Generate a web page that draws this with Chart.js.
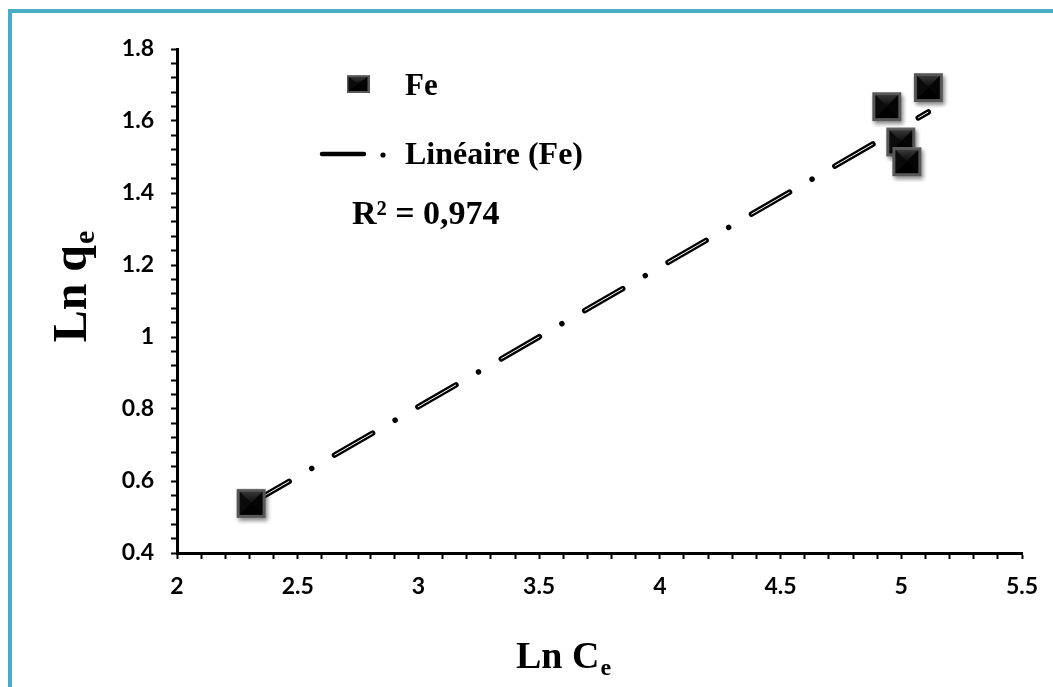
<!DOCTYPE html>
<html>
<head>
<meta charset="utf-8">
<script src="https://cdn.jsdelivr.net/npm/chart.js@4.4.1/dist/chart.umd.min.js"></script>
<style>
  html, body { margin: 0; padding: 0; background: #fff; }
  #wrap { position: relative; width: 1053px; height: 687px; overflow: hidden; }
  #frame { position: absolute; left: 8px; top: 9px; width: 1100px; height: 720px;
           border-top: 4px solid #4bacc6; border-left: 4px solid #4bacc6; box-sizing: border-box; }
  canvas { position: absolute; left: 0; top: 0; }
</style>
</head>
<body>
<div id="wrap">
  <div id="frame"></div>
  <canvas id="c" width="1053" height="687"></canvas>
</div>
<script>
// ---- data ----
const lnCe = [2.307, 4.940, 5.112, 4.998, 5.023];
const lnQe = [0.538, 1.640, 1.693, 1.542, 1.487];
const trendX = [2.307, 5.112];
const trendY = [0.538, 1.625];
const seriesName = 'Fe';
const trendName = 'Linéaire (Fe)';
const r2Label = 'R² = 0,974';
const xTitle = ['Ln C', 'e'];
const yTitle = ['Ln q', 'e'];

const SERIF = '"Liberation Serif", "Times New Roman", serif';
const SANS = 'Lato, "Open Sans", sans-serif';

function makeMarker(w, h, shadow) {
  const pad = shadow ? 6 : 0;
  const c = document.createElement('canvas');
  c.width = w + pad * 2; c.height = h + pad * 2;
  const g = c.getContext('2d');
  const x0 = pad, y0 = pad;
  if (shadow) {
    g.save();
    g.shadowColor = 'rgba(0,0,0,0.45)';
    g.shadowBlur = 4; g.shadowOffsetX = 2; g.shadowOffsetY = 3;
    g.fillStyle = '#4a4a4a';
    g.fillRect(x0, y0, w, h);
    g.restore();
  }
  g.fillStyle = '#575757';
  g.fillRect(x0, y0, w, h);
  g.fillStyle = '#707070';
  g.fillRect(x0, y0, w, 1);
  const b = Math.max(2, Math.round(w * 0.1));
  const ix = x0 + b, iy = y0 + b, iw = w - 2 * b, ih = h - 2 * b;
  const cx = ix + iw / 2, cy = iy + ih / 2;
  function tri(ax, ay, bx, by, col) {
    g.beginPath(); g.moveTo(ax, ay); g.lineTo(bx, by); g.lineTo(cx, cy); g.closePath();
    g.fillStyle = col; g.fill();
  }
  g.fillStyle = '#000'; g.fillRect(ix, iy, iw, ih);
  const gt = g.createLinearGradient(0, iy, 0, cy);
  gt.addColorStop(0, '#363636'); gt.addColorStop(1, '#0c0c0c');
  tri(ix, iy, ix + iw, iy, gt);
  tri(ix + iw, iy, ix + iw, iy + ih, '#050505');
  tri(ix, iy + ih, ix + iw, iy + ih, '#000');
  tri(ix, iy, ix, iy + ih, '#0b0b0b');
  return c;
}
const bigMarker = makeMarker(29, 29, true);
const smallMarker = makeMarker(23, 18, false);

function isMult(v, step) { const r = v / step; return Math.abs(r - Math.round(r)) < 1e-6; }

const overlay = {
  id: 'overlay',
  afterDraw(chart) {
    const ctx = chart.ctx;
    ctx.save();
    ctx.fillStyle = '#000';
    ctx.textBaseline = 'alphabetic';
    ctx.textAlign = 'left';
    // legend: series
    ctx.drawImage(smallMarker, 358 - smallMarker.width / 2, 84 - smallMarker.height / 2);
    ctx.font = 'bold 31px ' + SERIF;
    ctx.fillText(seriesName, 405, 95);
    // legend: trend line sample
    ctx.lineCap = 'round';
    ctx.strokeStyle = '#000'; ctx.lineWidth = 4.5;
    ctx.beginPath(); ctx.moveTo(322, 154); ctx.lineTo(364, 154); ctx.stroke();
    ctx.fillStyle = '#000';
    ctx.beginPath(); ctx.arc(383, 155, 2.6, 0, Math.PI * 2); ctx.fill();
    ctx.font = 'bold 32px ' + SERIF;
    ctx.fillText(trendName, 405, 164);
    // R²
    ctx.font = 'bold 34px ' + SERIF;
    ctx.fillText(r2Label, 352, 224);
    // x title
    ctx.font = 'bold 38px ' + SERIF;
    const wMain = ctx.measureText(xTitle[0]).width;
    ctx.font = 'bold 24px ' + SERIF;
    const wSub = ctx.measureText(xTitle[1]).width;
    let sx = 563 - (wMain + wSub) / 2;
    ctx.font = 'bold 38px ' + SERIF;
    ctx.fillText(xTitle[0], sx, 668);
    ctx.font = 'bold 24px ' + SERIF;
    ctx.fillText(xTitle[1], sx + wMain + 1, 675);
    // y title
    ctx.translate(86, 287);
    ctx.rotate(-Math.PI / 2);
    ctx.font = 'bold 48px ' + SERIF;
    const wyMain = ctx.measureText(yTitle[0]).width;
    ctx.font = 'bold 30px ' + SERIF;
    const wySub = ctx.measureText(yTitle[1]).width;
    let sy = -(wyMain + wySub) / 2;
    ctx.font = 'bold 48px ' + SERIF;
    ctx.fillText(yTitle[0], sy, 0);
    ctx.font = 'bold 30px ' + SERIF;
    ctx.fillText(yTitle[1], sy + wyMain + 1, 8);
    ctx.restore();
  }
};

const pts = lnCe.map((x, i) => ({ x: x, y: lnQe[i] }));
const trendPts = trendX.map((x, i) => ({ x: x, y: trendY[i] }));

new Chart(document.getElementById('c'), {
  type: 'scatter',
  data: {
    datasets: [
      { label: seriesName, data: pts, pointStyle: bigMarker, pointRadius: 15, order: 0 },
      { label: trendName, data: trendPts, showLine: true, pointRadius: 0,
        borderColor: '#000', borderWidth: 5.5, borderCapStyle: 'round',
        borderDash: [44, 26, 0.01, 26.3], order: 2 },
      { label: 'inner', data: trendPts, showLine: true, pointRadius: 0,
        borderColor: '#fff', borderWidth: 1, borderCapStyle: 'butt',
        borderDash: [44, 52.3], order: 1 }
    ]
  },
  options: {
    responsive: false,
    animation: false,
    devicePixelRatio: 1,
    layout: { padding: { left: 0, right: 31, top: 49, bottom: 0 } },
    plugins: { legend: { display: false }, tooltip: { enabled: false } },
    scales: {
      x: {
        type: 'linear', min: 2, max: 5.5,
        afterFit(s) { s.height = 134; },
        border: { display: true, color: '#000', width: 3 },
        grid: { drawOnChartArea: false, drawTicks: true, tickLength: 6, tickWidth: 2, color: '#000' },
        ticks: {
          stepSize: 0.1, autoSkip: false, maxRotation: 0, padding: 14, color: '#000',
          font: { family: SANS, size: 23, weight: 'bold' },
          callback: v => isMult(v, 0.5) ? String(Math.round(v * 10) / 10) : ''
        }
      },
      y: {
        type: 'linear', min: 0.4, max: 1.8,
        afterFit(s) { s.width = 177; },
        border: { display: true, color: '#000', width: 3 },
        grid: { drawOnChartArea: false, drawTicks: true, tickLength: 6, tickWidth: 2, color: '#000' },
        ticks: {
          stepSize: 0.04, autoSkip: false, padding: 17, color: '#000',
          font: { family: SANS, size: 23, weight: 'bold' },
          callback: v => isMult(v, 0.2) ? String(Math.round(v * 10) / 10) : ''
        }
      }
    }
  },
  plugins: [overlay]
});
</script>
</body>
</html>
